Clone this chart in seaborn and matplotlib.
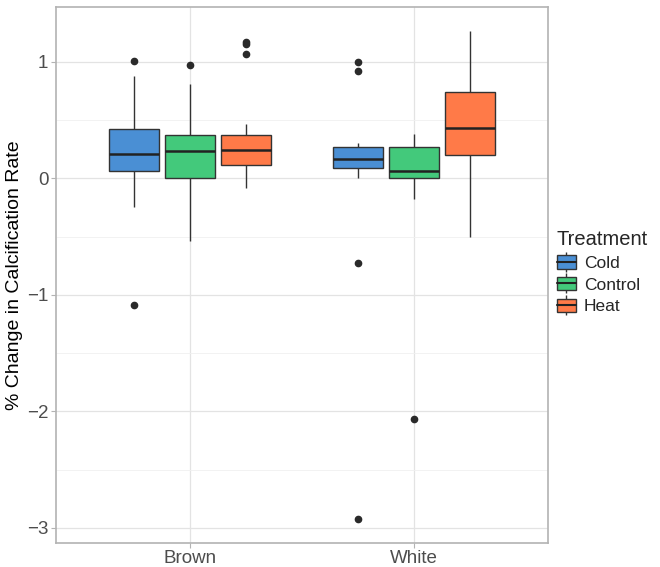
import numpy as np
import pandas as pd
import matplotlib
matplotlib.use("Agg")
import matplotlib.pyplot as plt
import seaborn as sns
from matplotlib.ticker import MultipleLocator
from matplotlib.patches import Patch
from matplotlib.lines import Line2D
from matplotlib.legend_handler import HandlerTuple

# ============================================================
# Data
# ============================================================
colors = ["Brown", "White"]
treatments = ["Cold", "Control", "Heat"]
palette = {"Cold": "#4A8FD4", "Control": "#43C97B", "Heat": "#FF7A48"}

brown_cold = [-1.09, -0.25, 0.00, 0.063, 0.12, 0.17, 0.21, 0.28, 0.35, 0.42, 0.55, 0.88, 1.01]
brown_control = [-0.54, -0.20, 0.00, 0.12, 0.23, 0.30, 0.37, 0.81, 0.97]
brown_heat = [-0.08, 0.00, 0.05, 0.09, 0.11, 0.15, 0.19, 0.22, 0.245,
              0.28, 0.31, 0.34, 0.37, 0.47, 1.07, 1.15, 1.17]
white_cold = [-2.92, -0.73, 0.00, 0.086, 0.11, 0.14, 0.164, 0.20, 0.24, 0.27, 0.30, 0.92, 1.00]
white_control = [-2.07, -0.18, 0.00, 0.03, 0.063, 0.15, 0.27, 0.32, 0.38]
white_heat = [-0.50, 0.05, 0.204, 0.33, 0.434, 0.55, 0.74, 0.95, 1.26]

groups = {
    ("Brown", "Cold"): brown_cold,
    ("Brown", "Control"): brown_control,
    ("Brown", "Heat"): brown_heat,
    ("White", "Cold"): white_cold,
    ("White", "Control"): white_control,
    ("White", "Heat"): white_heat,
}

rows = []
for (col, trt), vals in groups.items():
    for v in vals:
        rows.append({"Color": col, "Treatment": trt, "Change": v})
df = pd.DataFrame(rows)

# ============================================================
# Plot
# ============================================================
sns.set_theme(style="white")
plt.rcParams["font.family"] = ["Liberation Sans", "DejaVu Sans"]

fig = plt.figure(figsize=(6.6, 5.67), dpi=100)
ax = fig.add_axes([56 / 660, 1 - 543 / 567, (548 - 56) / 660, (543 - 7) / 567])

sns.boxplot(
    data=df, x="Color", y="Change", hue="Treatment",
    order=colors, hue_order=treatments, palette=palette,
    width=0.75, gap=0.1, saturation=1, showcaps=False, whis=1.5,
    linecolor="#333333", linewidth=1.0,
    medianprops={"color": "#222222", "linewidth": 1.8},
    flierprops={"marker": "o", "markerfacecolor": "#2a2a2a",
                "markeredgecolor": "#2a2a2a", "markersize": 4.5},
    ax=ax, zorder=3, legend=False,
)

ax.set_xlim(-0.6, 1.6)
ax.set_ylim(-3.13, 1.47)
ax.yaxis.set_major_locator(MultipleLocator(1))
ax.yaxis.set_minor_locator(MultipleLocator(0.5))

ax.grid(True, which="major", axis="both", color="#E3E3E3", linewidth=0.9, zorder=0)
ax.grid(True, which="minor", axis="y", color="#F0F0F0", linewidth=0.6, zorder=0)
ax.set_axisbelow(True)

for sp in ax.spines.values():
    sp.set_color("#B3B3B3")
    sp.set_linewidth(1.2)

ax.tick_params(axis="both", which="major", length=3.5, width=0.8, color="#B3B3B3",
               labelcolor="#4D4D4D", bottom=True, left=True)
ax.tick_params(axis="x", labelsize=13.5, pad=1.5)
ax.tick_params(axis="y", labelsize=13.5, pad=2)
ax.tick_params(axis="y", which="minor", length=0)

ax.set_xlabel("")
ax.set_ylabel("% Change in Calcification Rate", fontsize=14, color="black", labelpad=3)

# ggplot-style legend keys: mini boxplot glyphs
handles = []
for t in treatments:
    stub = Line2D([], [], linestyle="none", marker="|", markersize=15,
                  markeredgecolor="#333333", markeredgewidth=1.0)
    box = Patch(facecolor=palette[t], edgecolor="#333333", linewidth=1.0)
    mid = Line2D([], [], color="#222222", linewidth=1.5)
    handles.append((stub, box, mid))

leg = ax.legend(handles, treatments, title="Treatment",
                handler_map={tuple: HandlerTuple(ndivide=1, pad=0)},
                loc="center left", bbox_to_anchor=(0.995, 0.505),
                frameon=False, fontsize=12.5, title_fontsize=14.5,
                handlelength=1.1, handleheight=0.8, handletextpad=0.45,
                labelspacing=0.35, borderaxespad=0.25)
leg._legend_box.align = "left"

fig.savefig("out.png", dpi=100)
